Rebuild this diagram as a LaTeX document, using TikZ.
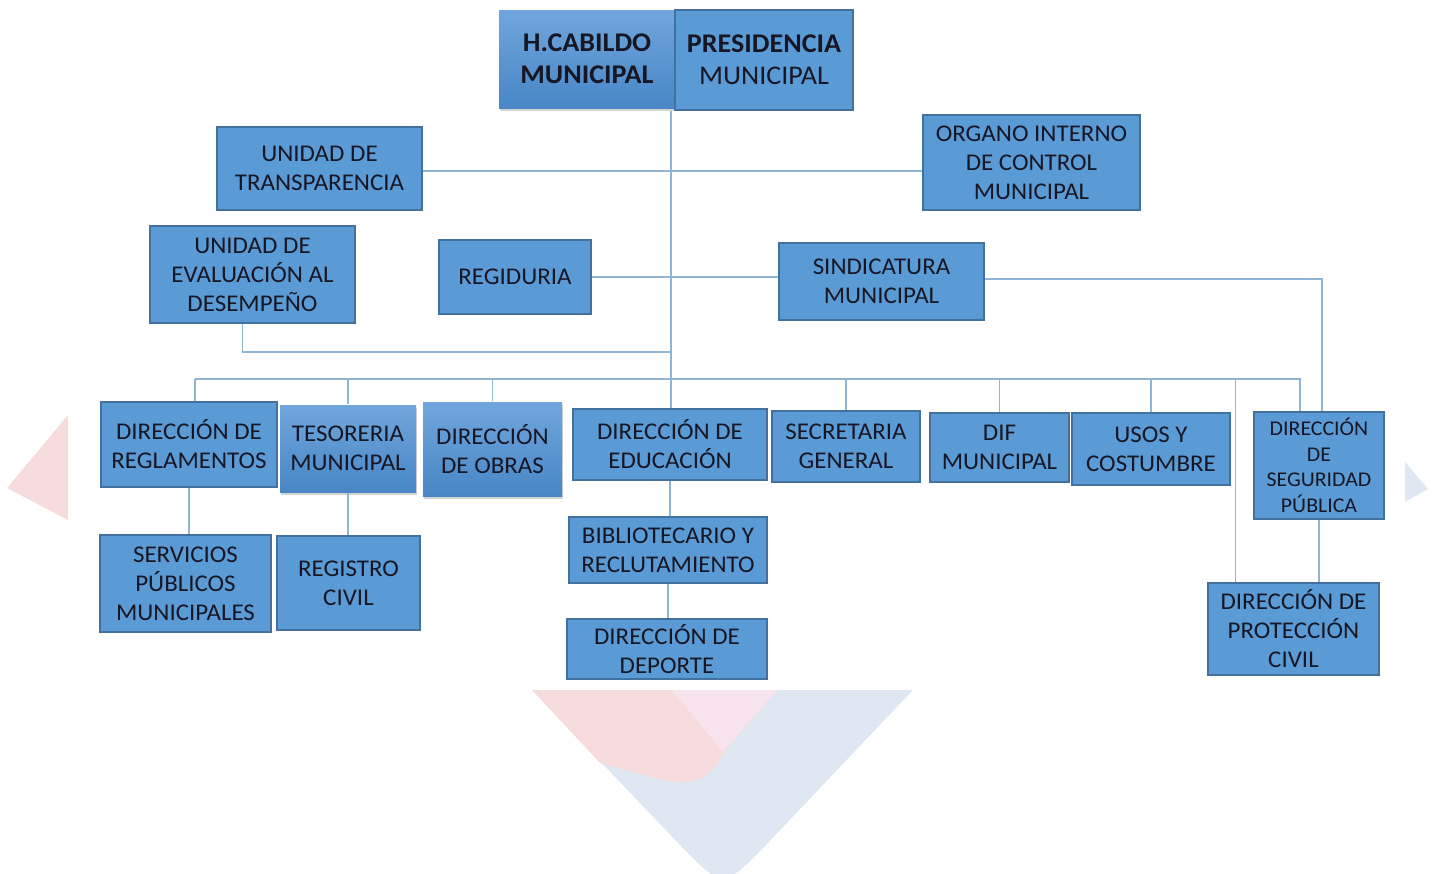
\documentclass[tikz,border=0pt]{standalone}
\usepackage{fontspec}
\setmainfont{Carlito}[FakeStretch=1.04]
\usepackage{tikz}
\usetikzlibrary{shadows,positioning}

\definecolor{cajazul}{RGB}{91,155,213}
\definecolor{bordeazul}{RGB}{65,113,156}
\definecolor{lineazul}{RGB}{143,180,214}
\definecolor{textooscuro}{RGB}{22,22,36}
\definecolor{marcarosa}{RGB}{246,220,220}
\definecolor{marcamagenta}{RGB}{248,228,238}
\definecolor{marcaazul}{RGB}{223,232,242}
\definecolor{degarriba}{RGB}{112,166,220}
\definecolor{degabajo}{RGB}{72,134,198}

\begin{document}
\begin{tikzpicture}[x=1pt,y=-1pt,
	caja/.style={draw=bordeazul,line width=1.2pt,fill=cajazul,text=textooscuro,align=center,inner sep=2pt,font=\fontsize{24}{29}\selectfont},
	cajadeg/.style={caja,draw=none,top color=degarriba,bottom color=degabajo,drop shadow={shadow xshift=1pt,shadow yshift=-3pt,opacity=.35}},
	linea/.style={draw=lineazul,line width=1.3pt}]
		\useasboundingbox (0,0) rectangle (1437,873);
		\fill[marcaazul] (532,690) -- (913,690) -- (765,846) .. controls (723,889) .. (681,846) -- cycle;
		\fill[marcarosa] (532,690) -- (777,690) -- (728,748) .. controls (712,770) and (705,792) .. (655,778) -- (600,763) -- cycle;
		\fill[marcamagenta] (672,690) -- (777,690) -- (723,752) -- cycle;
		\fill[marcarosa] (7,488) -- (68,415) -- (68,520) -- cycle;
		\fill[marcaazul] (1405,462) -- (1428,489) -- (1405,502) -- cycle;

		\node[cajadeg,font=\fontsize{27}{32}\selectfont\bfseries,minimum width=176,minimum height=98] (cabildo) at (587,59) {H.CABILDO\\MUNICIPAL};
		\node[caja,font=\fontsize{27}{32}\selectfont,minimum width=178,minimum height=100] (presidencia) at (764,60) {\textbf{PRESIDENCIA}\\MUNICIPAL};
		\node[caja,minimum width=205,minimum height=83] (transparencia) at (319.5,168.5) {UNIDAD DE\\TRANSPARENCIA};
		\node[caja,minimum width=217,minimum height=95] (organo) at (1031.5,162.5) {ORGANO INTERNO\\DE CONTROL\\MUNICIPAL};
		\node[caja,minimum width=205,minimum height=97] (evaluacion) at (252.5,274.5) {UNIDAD DE\\EVALUACIÓN AL\\DESEMPEÑO};
		\node[caja,minimum width=152,minimum height=74] (regiduria) at (515,277) {REGIDURIA};
		\node[caja,minimum width=205,minimum height=77] (sindicatura) at (881.5,281.5) {SINDICATURA\\MUNICIPAL};
		\node[caja,minimum width=176,minimum height=85] (reglamentos) at (189,444.5) {DIRECCIÓN DE\\REGLAMENTOS};
		\node[cajadeg,minimum width=136,minimum height=87] (tesoreria) at (348,448.5) {TESORERIA\\MUNICIPAL};
		\node[cajadeg,minimum width=139,minimum height=94] (obras) at (492.5,449) {DIRECCIÓN\\DE OBRAS};
		\node[caja,minimum width=194,minimum height=71] (educacion) at (670,444.5) {DIRECCIÓN DE\\EDUCACIÓN};
		\node[caja,minimum width=148,minimum height=71] (secretaria) at (846,446.5) {SECRETARIA\\GENERAL};
		\node[caja,minimum width=139,minimum height=69] (dif) at (999.5,447.5) {DIF\\MUNICIPAL};
		\node[caja,minimum width=158,minimum height=72] (usos) at (1151,449) {USOS Y\\COSTUMBRE};
		\node[caja,font=\fontsize{21}{25.5}\selectfont,minimum width=130,minimum height=107] (seguridad) at (1319,465.5) {DIRECCIÓN\\DE\\SEGURIDAD\\PÚBLICA};
		\node[caja,minimum width=171,minimum height=97] (servicios) at (185.5,583.5) {SERVICIOS\\PÚBLICOS\\MUNICIPALES};
		\node[caja,minimum width=143,minimum height=94] (registro) at (348.5,583) {REGISTRO\\CIVIL};
		\node[caja,minimum width=198,minimum height=66] (biblio) at (668,550) {BIBLIOTECARIO Y\\RECLUTAMIENTO};
		\node[caja,minimum width=200,minimum height=60] (deporte) at (667,649) {DIRECCIÓN DE\\DEPORTE};
		\node[caja,minimum width=171,minimum height=92] (proteccion) at (1293.5,629) {DIRECCIÓN DE\\PROTECCIÓN\\CIVIL};

		\coordinate (bus) at (671,379);
		\coordinate (junta) at (671,352);
		\coordinate (pcivil) at ([xshift=28pt]proteccion.north west);
		\coordinate (pseg) at ([xshift=-19pt]seguridad.north);
		\draw[linea] (presidencia.south -| bus) -- (educacion.north -| bus);
		\draw[linea] ([yshift=-2.5pt]transparencia.east) -- ([yshift=-2.5pt]transparencia.east -| organo.west);
		\draw[linea] (regiduria.east) -- (regiduria.east -| sindicatura.west);
		\draw[linea] ([yshift=2.5pt]sindicatura.east) -| ([xshift=3pt]seguridad.north);
		\draw[linea] ([xshift=-10pt]evaluacion.south) |- (junta);
		\draw[linea] ([xshift=6pt]reglamentos.north |- bus) -- (pseg |- bus) -- (pseg);
		\foreach \n in {tesoreria,obras,secretaria,dif,usos} \draw[linea] (\n.north |- bus) -- (\n.north);
		\draw[linea] ([xshift=6pt]reglamentos.north |- bus) -- ([xshift=6pt]reglamentos.north);
		\draw[linea] (pcivil |- bus) -- (pcivil);
		\draw[linea] (reglamentos.south) -- (reglamentos.south |- servicios.north);
		\draw[linea] (tesoreria.south) -- (tesoreria.south |- registro.north);
		\draw[linea] (educacion.south) -- (educacion.south |- biblio.north);
		\draw[linea] (biblio.south) -- (biblio.south |- deporte.north);
		\draw[linea] (seguridad.south) -- (seguridad.south |- proteccion.north);
	\end{tikzpicture}
\end{document}
